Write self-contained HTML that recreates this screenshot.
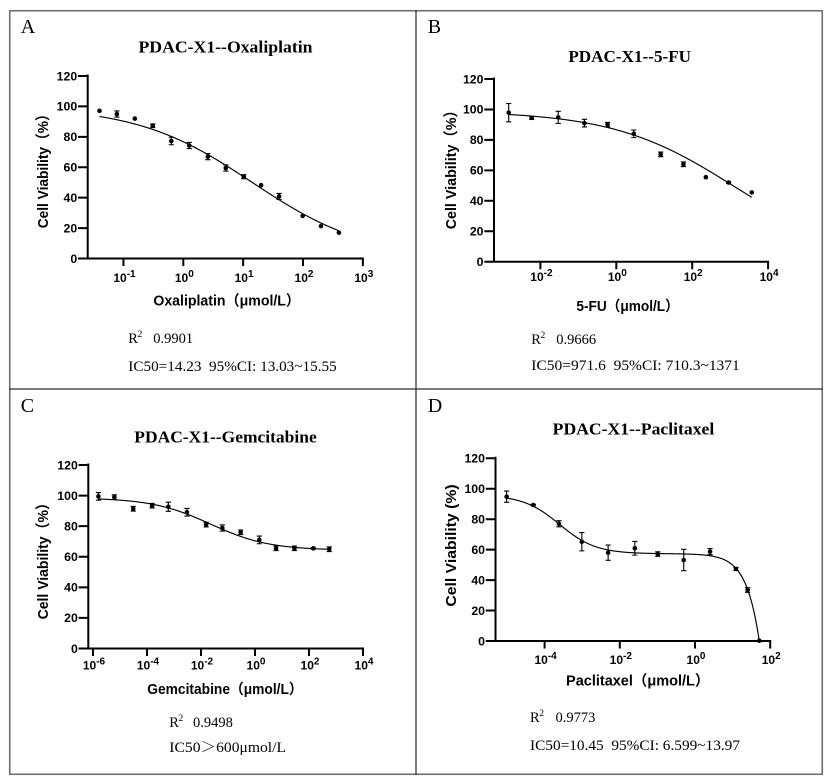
<!DOCTYPE html>
<html>
<head>
<meta charset="utf-8">
<style>
  html,body{margin:0;padding:0;background:#fff;}
  svg{display:block;}
  .serif{font-family:"Liberation Serif","Noto Serif CJK SC",serif;fill:#000;}
  .sans{font-family:"Liberation Sans","Noto Sans CJK SC",sans-serif;fill:#000;font-weight:bold;}
  .ttl{font-size:17px;font-weight:bold;}
  .let{font-size:20px;}
  .yl{font-size:15px;}
  .xl{font-size:14.5px;}
  .tk{font-size:12.3px;}
  .xt{font-size:12px;}
  .st{font-size:14.5px;}
</style>
</head>
<body>
<svg id="s" width="830" height="784" viewBox="0 0 830 784" xmlns="http://www.w3.org/2000/svg">
  <rect width="830" height="784" fill="#fff"/>
  <!-- borders -->
  <rect x="9.75" y="10.75" width="812.5" height="763.5" fill="none" stroke="#6f6f6f" stroke-width="1.6"/>
  <line x1="416" y1="10" x2="416" y2="775" stroke="#2a2a2a" stroke-width="1.2"/>
  <line x1="9" y1="389" x2="823" y2="389" stroke="#2a2a2a" stroke-width="1.2"/>

  <g id="graphics" fill="none" stroke="#000"></g>

  <!-- panel letters -->
  <text class="serif let" x="20.7" y="33">A</text>
  <text class="serif let" x="427.7" y="33">B</text>
  <text class="serif let" x="20.7" y="412">C</text>
  <text class="serif let" x="427.7" y="412">D</text>

  <!-- titles -->
  <text class="serif ttl" x="225.5" y="52.3" text-anchor="middle" textLength="174" lengthAdjust="spacingAndGlyphs">PDAC-X1--Oxaliplatin</text>
  <text class="serif ttl" x="629.7" y="62" text-anchor="middle" textLength="122.7" lengthAdjust="spacingAndGlyphs">PDAC-X1--5-FU</text>
  <text class="serif ttl" x="225.5" y="442.3" text-anchor="middle" textLength="182.4" lengthAdjust="spacingAndGlyphs">PDAC-X1--Gemcitabine</text>
  <text class="serif ttl" x="633.5" y="434.3" text-anchor="middle" textLength="161.6" lengthAdjust="spacingAndGlyphs">PDAC-X1--Paclitaxel</text>

  <!-- y axis labels -->
  <text class="sans yl" transform="translate(47.8,167.8) rotate(-90)" text-anchor="middle" textLength="121" lengthAdjust="spacingAndGlyphs">Cell Viability（%）</text>
  <text class="sans yl" transform="translate(456.1,166.3) rotate(-90)" text-anchor="middle" textLength="126" lengthAdjust="spacingAndGlyphs">Cell Viability（%）</text>
  <text class="sans yl" transform="translate(48.1,557.7) rotate(-90)" text-anchor="middle" textLength="123.3" lengthAdjust="spacingAndGlyphs">Cell Viability（%）</text>
  <text class="sans yl" transform="translate(455.8,545.5) rotate(-90)" text-anchor="middle" textLength="122.3" lengthAdjust="spacingAndGlyphs">Cell Viability (%)</text>

  <!-- y tick labels A -->
  <g class="sans tk" text-anchor="end">
    <text x="77.2" y="262.8">0</text>
    <text x="77.2" y="232.4">20</text>
    <text x="77.2" y="202">40</text>
    <text x="77.2" y="171.6">60</text>
    <text x="77.2" y="141.1">80</text>
    <text x="77.2" y="110.7">100</text>
    <text x="77.2" y="80.3">120</text>
  </g>
  <!-- y tick labels B -->
  <g class="sans tk" text-anchor="end">
    <text x="483.5" y="266">0</text>
    <text x="483.5" y="235.5">20</text>
    <text x="483.5" y="205.1">40</text>
    <text x="483.5" y="174.6">60</text>
    <text x="483.5" y="144.2">80</text>
    <text x="483.5" y="113.7">100</text>
    <text x="483.5" y="83.3">120</text>
  </g>
  <!-- y tick labels C -->
  <g class="sans tk" text-anchor="end">
    <text x="77.8" y="652.8">0</text>
    <text x="77.8" y="622.2">20</text>
    <text x="77.8" y="591.6">40</text>
    <text x="77.8" y="561">60</text>
    <text x="77.8" y="530.5">80</text>
    <text x="77.8" y="499.9">100</text>
    <text x="77.8" y="469.3">120</text>
  </g>
  <!-- y tick labels D -->
  <g class="sans tk" text-anchor="end">
    <text x="485" y="645.3">0</text>
    <text x="485" y="614.8">20</text>
    <text x="485" y="584.4">40</text>
    <text x="485" y="553.9">60</text>
    <text x="485" y="523.5">80</text>
    <text x="485" y="493">100</text>
    <text x="485" y="462.6">120</text>
  </g>

  <!-- x tick labels A -->
  <g class="sans xt" text-anchor="middle">
    <text x="124.5" y="282">10<tspan font-size="10" dy="-5">-1</tspan></text>
    <text x="184.3" y="282">10<tspan font-size="10" dy="-5">0</tspan></text>
    <text x="244.1" y="282">10<tspan font-size="10" dy="-5">1</tspan></text>
    <text x="304" y="282">10<tspan font-size="10" dy="-5">2</tspan></text>
    <text x="363.8" y="282">10<tspan font-size="10" dy="-5">3</tspan></text>
  </g>
  <!-- x tick labels B -->
  <g class="sans xt" text-anchor="middle">
    <text x="541.4" y="281">10<tspan font-size="10" dy="-5">-2</tspan></text>
    <text x="617.3" y="281">10<tspan font-size="10" dy="-5">0</tspan></text>
    <text x="693.2" y="281">10<tspan font-size="10" dy="-5">2</tspan></text>
    <text x="769.1" y="281">10<tspan font-size="10" dy="-5">4</tspan></text>
  </g>
  <!-- x tick labels C -->
  <g class="sans xt" text-anchor="middle">
    <text x="94" y="669.3">10<tspan font-size="10" dy="-5">-6</tspan></text>
    <text x="148" y="669.3">10<tspan font-size="10" dy="-5">-4</tspan></text>
    <text x="202" y="669.3">10<tspan font-size="10" dy="-5">-2</tspan></text>
    <text x="256" y="669.3">10<tspan font-size="10" dy="-5">0</tspan></text>
    <text x="310" y="669.3">10<tspan font-size="10" dy="-5">2</tspan></text>
    <text x="364" y="669.3">10<tspan font-size="10" dy="-5">4</tspan></text>
  </g>
  <!-- x tick labels D -->
  <g class="sans xt" text-anchor="middle">
    <text x="545.6" y="664">10<tspan font-size="10" dy="-5">-4</tspan></text>
    <text x="620.8" y="664">10<tspan font-size="10" dy="-5">-2</tspan></text>
    <text x="696" y="664">10<tspan font-size="10" dy="-5">0</tspan></text>
    <text x="771.2" y="664">10<tspan font-size="10" dy="-5">2</tspan></text>
  </g>

  <!-- x axis titles -->
  <text class="sans xl" x="226.7" y="305.5" text-anchor="middle" textLength="146.7" lengthAdjust="spacingAndGlyphs">Oxaliplatin（μmol/L）</text>
  <text class="sans xl" x="627.6" y="311" text-anchor="middle" textLength="102.4" lengthAdjust="spacingAndGlyphs">5-FU（μmol/L）</text>
  <text class="sans xl" x="225" y="694" text-anchor="middle" textLength="155.4" lengthAdjust="spacingAndGlyphs">Gemcitabine（μmol/L）</text>
  <text class="sans xl" x="637.7" y="685.7" text-anchor="middle" textLength="143.3" lengthAdjust="spacingAndGlyphs">Paclitaxel（μmol/L）</text>

  <!-- stats A -->
  <text class="serif st" x="128.3" y="343">R</text>
  <text class="serif" font-size="9.5" x="137.5" y="337">2</text>
  <text class="serif st" x="153.3" y="343">0.9901</text>
  <text class="serif st" x="128.3" y="371" textLength="208.4" lengthAdjust="spacingAndGlyphs">IC50=14.23&#160;&#160;95%CI: 13.03~15.55</text>
  <!-- stats B -->
  <text class="serif st" x="531.3" y="344">R</text>
  <text class="serif" font-size="9.5" x="540.5" y="338">2</text>
  <text class="serif st" x="556.3" y="344">0.9666</text>
  <text class="serif st" x="531.3" y="370" textLength="208.5" lengthAdjust="spacingAndGlyphs">IC50=971.6&#160;&#160;95%CI: 710.3~1371</text>
  <!-- stats C -->
  <text class="serif st" x="169.3" y="727">R</text>
  <text class="serif" font-size="9.5" x="178.5" y="721">2</text>
  <text class="serif st" x="193" y="727">0.9498</text>
  <text class="serif st" x="169.3" y="752" textLength="116.7" lengthAdjust="spacingAndGlyphs">IC50＞600μmol/L</text>
  <!-- stats D -->
  <text class="serif st" x="530" y="722">R</text>
  <text class="serif" font-size="9.5" x="539.2" y="716">2</text>
  <text class="serif st" x="555.5" y="722">0.9773</text>
  <text class="serif st" x="530" y="750" textLength="210" lengthAdjust="spacingAndGlyphs">IC50=10.45&#160;&#160;95%CI: 6.599~13.97</text>
</svg>

<script>
(function(){
  var NS = "http://www.w3.org/2000/svg";
  var g = document.getElementById("graphics");
  function el(name, attrs){
    var e = document.createElementNS(NS, name);
    for (var k in attrs) e.setAttribute(k, attrs[k]);
    g.appendChild(e);
    return e;
  }
  var L10 = Math.log10 || function(v){return Math.log(v)/Math.LN10;};
  var panels = [
    { ax:87.7, x1:362.85, y0:258.5, y120:76, o:183.3, d:59.85, xt:[-1,0,1,2,3],
      c0:-1.40, c1:2.60,
      f:function(lx){ return 100/(1+Math.pow(10,0.45*(lx-L10(14.23)))); },
      pts:[[-1.40,97.1,0],[-1.11,95,2],[-0.81,92,0],[-0.51,87.3,1.2],[-0.20,77.3,2.5],[0.10,74.3,2],
           [0.41,67,2],[0.71,59.5,2],[1.01,53.8,1.3],[1.30,48.2,0],[1.60,40.8,2],[1.995,28,0],[2.30,21.3,0],[2.60,17,0]] },
    { ax:494, x1:768.1, y0:261.7, y120:79, o:616.3, d:37.95, xt:[-2,0,2,4],
      c0:-2.835, c1:3.57,
      f:function(lx){ return 99/(1+Math.pow(10,0.2727*(lx-3.104))); },
      pts:[[-2.835,97.9,6],[-2.23,94.5,1],[-1.53,94.8,4],[-0.84,91,2.5],[-0.23,90,1.5],[0.46,84,2.5],
           [1.17,70.5,1.5],[1.77,64,1.5],[2.36,55.5,0],[2.96,52,0.5],[3.57,45.5,0]] },
    { ax:88.3, x1:363, y0:648.5, y120:465, o:255, d:27, xt:[-6,-4,-2,0,2,4],
      c0:-5.80, c1:2.75,
      f:function(lx){ return 64.3 + 34.2/(1+Math.pow(10,0.4*(lx+1.65))); },
      pts:[[-5.80,99.5,2.5],[-5.21,99,1.5],[-4.51,91.4,1.5],[-3.81,93.4,1.5],[-3.21,92.7,3],[-2.52,89.1,2.5],
           [-1.81,81,1.5],[-1.21,78.8,2],[-0.53,76,1.5],[0.16,71,2.5],[0.78,65.5,1.5],[1.46,65.5,1.5],
           [2.16,65.5,0.5],[2.75,64.9,1.5]] },
    { ax:495.5, x1:770.2, y0:641, y120:458.3, o:695, d:37.6, xt:[-4,-2,0,2],
      c0:-5.01, c1:1.71,
      f:function(lx){
        var a = 57.3 + 38.5/(1+Math.pow(10,0.9*(lx+3.6)));
        var m = 1 - Math.pow(Math.pow(10,lx)/51.3,1.25);
        return Math.max(0, a*m);
      },
      pts:[[-5.01,94.8,3.7],[-4.30,89.3,0.5],[-3.62,77,2],[-3.01,65.2,6],[-2.31,58,5],[-1.60,60.9,4.5],
           [-0.99,57.1,1.5],[-0.30,53.2,7],[0.40,58.7,2],[1.09,47.3,1],[1.40,33.5,1.5],[1.71,0.2,0]] }
  ];
  panels.forEach(function(p){
    var sc = (p.y0 - p.y120)/120;
    function X(lx){ return p.o + lx*p.d; }
    function Y(v){ return p.y0 - v*sc; }
    var d = "M"+p.ax+" "+(p.y120-0.5)+" V"+(p.y0)+" H"+p.x1;
    for (var v=0; v<=120; v+=20){ d += " M"+(p.ax-8.7)+" "+Y(v).toFixed(2)+" H"+p.ax; }
    p.xt.forEach(function(t){ d += " M"+X(t).toFixed(2)+" "+p.y0+" V"+(p.y0+6.5); });
    el("path",{d:d,"stroke-width":"2","stroke-linecap":"square",fill:"none",stroke:"#000"});
    var n = 500, cd = "";
    for (var i=0;i<=n;i++){
      var lx = p.c0 + (p.c1-p.c0)*i/n;
      var yv = p.f(lx);
      cd += (i===0?"M":" L")+X(lx).toFixed(2)+" "+Y(yv).toFixed(2);
    }
    el("path",{d:cd,"stroke-width":"1.15",fill:"none",stroke:"#000"});
    p.pts.forEach(function(q){
      var x = X(q[0]), y = Y(q[1]);
      if (q[2] > 0){
        var yt = Y(q[1]+q[2]), yb = Y(q[1]-q[2]);
        el("path",{d:"M"+x.toFixed(2)+" "+yt.toFixed(2)+" V"+yb.toFixed(2)+
                    " M"+(x-2.6).toFixed(2)+" "+yt.toFixed(2)+" H"+(x+2.6).toFixed(2)+
                    " M"+(x-2.6).toFixed(2)+" "+yb.toFixed(2)+" H"+(x+2.6).toFixed(2),
                   "stroke-width":"1.1",fill:"none",stroke:"#000"});
      }
      el("circle",{cx:x.toFixed(2),cy:y.toFixed(2),r:"2.3",fill:"#000",stroke:"none"});
    });
  });
})();
</script>
</body>
</html>
